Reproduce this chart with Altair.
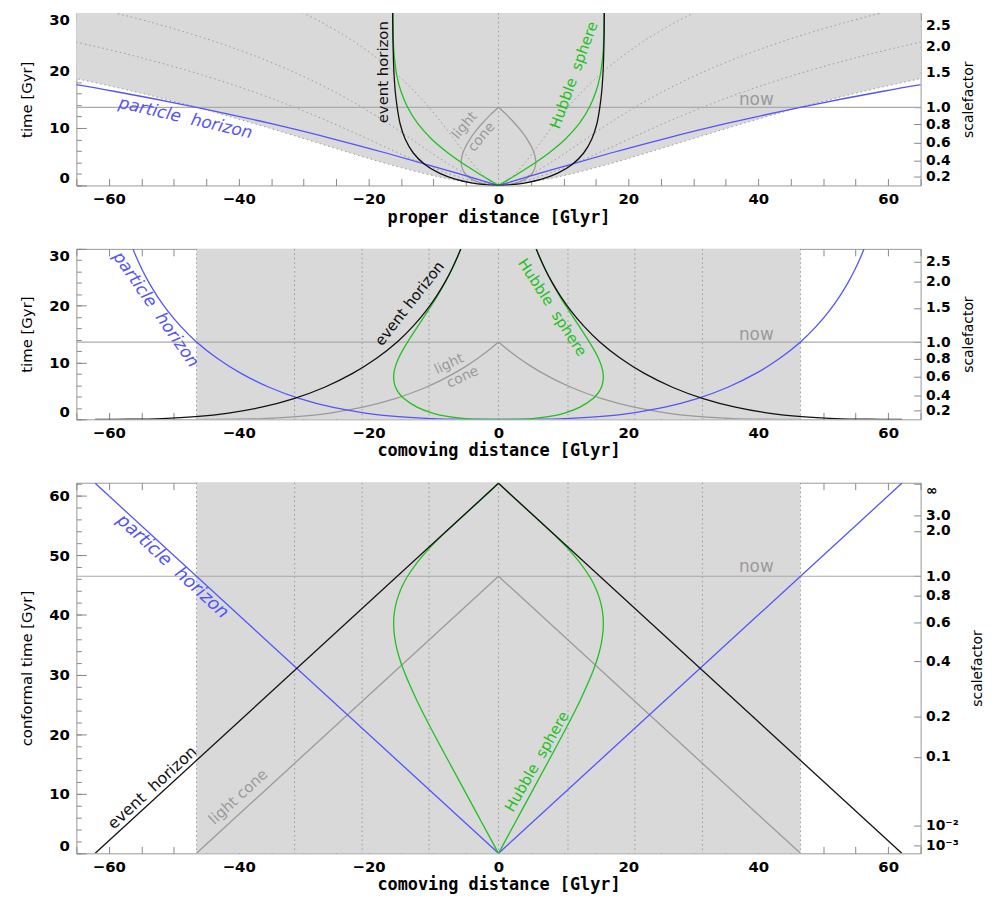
import altair as alt
import pandas as pd

# ------------------------------------------------------------------ values
# cosmic time grid [Gyr]
T_GRID = [0, 0.017, 0.137, 0.463, 1.097, 2.133, 3.644, 5.648, 8.077, 10.784,
          13.6, 16.392, 19.083, 21.641, 24.055, 26.329, 28.472, 30.0]
T_FINE = [0, 0.017, 0.137, 0.463, 1.097, 2.133, 3.644, 4.587, 5.648, 6.817,
          8.077, 9.407, 10.784, 12.188, 13.6, 16.392, 19.083, 21.641, 24.055,
          26.329, 28.472, 30.0]
T_NOW = 13.6
ETA_NOW = 46.5
ETA_END = 62.1

# comoving distances of the dotted worldlines [Glyr]
COMOVING_MARKS = [0, 10.7, 21.0, 31.4, 46.5]

# panel 1: proper distance [Glyr], right half (left half is the mirror image)
P1_PARTICLE = [0, 0.051, 0.411, 1.387, 3.285, 6.405, 11.01, 17.31, 25.37, 35.14, 46.5, 59.24, 73.35]
P1_EVENT = [0, 0.57, 2.073, 4.202, 6.651, 9.12, 11.34, 13.12, 14.37, 15.16, 15.6, 15.9,
            16.07, 16.17, 16.23, 16.27, 16.29, 16.3]
P1_HUBBLE = [0, 0.026, 0.204, 0.689, 1.628, 3.138, 5.243, 7.766, 10.31, 12.45, 14.0, 15.02,
             15.65, 15.97, 16.15, 16.2, 16.23, 16.24]
P1_LIGHTCONE = [0, 0.414, 1.449, 2.798, 4.155, 5.22, 5.728, 5.704, 5.478, 5.04, 4.39,
                3.555, 2.527, 1.336, 0]
P1_WORLD_10 = [0, 0.107, 0.428, 0.963, 1.712, 2.675, 3.852, 5.243, 6.848, 8.667, 10.7,
               12.947, 15.408, 18.083, 20.972, 24.075, 27.392, 30.02]
P1_WORLD_21 = [0, 0.21, 0.84, 1.89, 3.36, 5.25, 7.56, 10.29, 13.44, 17.01, 21.0, 25.41,
               30.24, 35.49, 41.16, 47.25, 53.76, 58.93]
P1_WORLD_31 = [0, 0.314, 1.256, 2.826, 5.024, 7.85, 11.304, 15.386, 20.096, 25.434, 31.4,
               37.994, 45.216, 53.066, 61.544, 70.65]
P1_WORLD_46 = [0, 0.465, 1.86, 4.185, 7.44, 11.625, 16.74, 22.785, 29.76, 37.665, 46.5,
               56.265, 66.96]

# panel 2: comoving distance [Glyr]
P2_PARTICLE = [0, 5.14, 10.28, 15.41, 20.53, 25.62, 30.59, 35.32, 39.64, 43.38, 46.5, 48.96,
               50.94, 52.53, 53.82, 54.87, 55.74, 56.29]
P2_EVENT = [62.1, 56.96, 51.82, 46.69, 41.57, 36.48, 31.51, 26.78, 22.46, 18.72, 15.6, 13.14,
            11.16, 9.57, 8.28, 7.23, 6.365, 5.81]
P2_HUBBLE = [0, 2.556, 5.11, 7.66, 10.18, 12.55, 14.56, 15.32, 15.85, 16.11, 16.11, 15.85,
             15.37, 14.74, 14.0, 12.41, 10.87, 9.45, 8.25, 7.2, 6.34, 5.78]
P2_LIGHTCONE = [46.5, 41.36, 36.23, 31.09, 25.97, 20.88, 15.91, 13.5, 11.18, 8.96, 6.86,
                4.92, 3.12, 1.48, 0]

# panel 3: comoving distance [Glyr] against conformal time [Gyr]
P3_ETA = [0, 5.14, 10.28, 15.41, 20.53, 25.62, 30.59, 33.0, 35.32, 37.54, 39.64, 41.58, 43.38,
          45.02, 46.5, 48.96, 50.94, 52.53, 53.82, 54.87, 55.74, 57.06, 58.02, 59.49, 60.28, 62.1]
P3_HUBBLE = [0, 2.556, 5.11, 7.66, 10.18, 12.55, 14.56, 15.32, 15.85, 16.11, 16.11, 15.85,
             15.37, 14.74, 14.0, 12.41, 10.87, 9.45, 8.25, 7.2, 6.34, 5.0, 4.05, 2.58, 1.8, 0]
P3_PARTICLE = [0, 62.1]
P3_PARTICLE_ETA = [0, 62.1]
P3_EVENT = [62.1, 0]
P3_EVENT_ETA = [0, 62.1]
P3_LIGHTCONE = [46.5, 0]
P3_LIGHTCONE_ETA = [0, 46.5]

# scalefactor axis (right)
SF_T_LABELS = ["0.2", "0.4", "0.6", "0.8", "1.0", "1.5", "2.0", "2.5"]
SF_T_AT = [1.53, 4.25, 7.45, 10.65, 13.6, 19.6, 24.2, 27.8]
SF_ETA_LABELS = ["10⁻³", "10⁻²", "0.1", "0.2", "0.4", "0.6", "0.8", "1.0", "2.0", "3.0", "∞"]
SF_ETA_AT = [1.25, 4.7, 16.2, 23.0, 32.2, 38.7, 43.2, 46.5, 54.1, 56.7, 62.1]

X_LABELS = [-60, -40, -20, 0, 20, 40, 60]

# ------------------------------------------------------------------ styling
BLUE = "#5353ff"
GREEN = "#22bf22"
BLACK = "#111111"
GREY = "#9a9a9a"
NOWC = "#aaaaaa"
BG = "#d9d9d9"
W = 852
XS = alt.Scale(domain=[-65, 65], nice=False, zero=False)


def mirror(xs, ys, name):
    rows = []
    for side, s in (("L", -1), ("R", 1)):
        for i, (x, y) in enumerate(zip(xs, ys)):
            rows.append({"x": s * x, "y": y, "g": name + side, "i": i})
    return pd.DataFrame(rows)


def line_layer(df, ys, color, width=1.3, dash=None, interp="catmull-rom"):
    props = dict(color=color, strokeWidth=width, clip=True, interpolate=interp)
    if dash is not None:
        props["strokeDash"] = dash
    return alt.Chart(df).mark_line(**props).encode(
        x=alt.X("x:Q", scale=XS, axis=None),
        y=alt.Y("y:Q", scale=ys, axis=None),
        detail="g:N",
        order="i:Q",
    )


def text_layer(txt, x, y, angle, color, size, ys, italic=False):
    df = pd.DataFrame({"x": [x], "y": [y], "t": [txt]})
    props = dict(color=color, fontSize=size, angle=angle, font="DejaVu Sans",
                 align="center", baseline="middle")
    if italic:
        props["fontStyle"] = "italic"
    return alt.Chart(df).mark_text(**props).encode(
        x=alt.X("x:Q", scale=XS, axis=None),
        y=alt.Y("y:Q", scale=ys, axis=None),
        text="t:N",
    )


def vrules(xs, ys):
    df = pd.DataFrame({"x": [-v for v in xs if v > 0] + xs})
    return alt.Chart(df).mark_rule(color=GREY, strokeDash=[1.5, 3], strokeWidth=1).encode(
        x=alt.X("x:Q", scale=XS, axis=None))


def now_rule(val, ys):
    return alt.Chart(pd.DataFrame({"y": [val]})).mark_rule(color=NOWC, strokeWidth=1.2).encode(
        y=alt.Y("y:Q", scale=ys, axis=None))


def tick_axis(orient, values, size):
    return alt.Axis(orient=orient, values=values, labels=False, domain=False,
                    tickSize=size, offset=-size, tickColor="#888", title=None,
                    minExtent=0, maxExtent=0)


def axis_layers(ys, ymax, xtitle, ytitle, y_major, sf_at, sf_labels):
    dummy = pd.DataFrame({"x": [0.0], "y": [0.0]})
    base = alt.Chart(dummy).mark_point(opacity=0)
    expr = ("[" + ",".join("'%s'" % l for l in sf_labels) + "][indexof(["
            + ",".join(str(v) for v in sf_at) + "], datum.value)]")
    ymin_ticks = list(range(0, int(ymax) + 1, 2))
    xmin_ticks = list(range(-65, 66, 5))
    layers = [
        base.encode(
            x=alt.X("x:Q", scale=XS, axis=alt.Axis(
                orient="bottom", values=X_LABELS, ticks=False, domain=False,
                labelPadding=6, labelFontSize=15, labelFontWeight="bold", labelFlush=False,
                title=xtitle, titleFont="DejaVu Sans Mono", titleFontSize=17,
                titleFontWeight="bold", titlePadding=3)),
            y=alt.Y("y:Q", scale=ys, axis=alt.Axis(
                orient="left", values=y_major, ticks=False, domain=False,
                labelPadding=7, labelFontSize=15, labelFontWeight="bold",
                labelFlush=True, labelFlushOffset=0,
                title=ytitle, titleFontSize=15, titleFontWeight="normal", titlePadding=14)),
        ),
        base.encode(
            x=alt.X("x:Q", scale=XS, axis=tick_axis("bottom", xmin_ticks, 7)),
            y=alt.Y("y:Q", scale=ys, axis=tick_axis("right", sf_at, 7)),
        ),
        base.encode(
            x=alt.X("x:Q", scale=XS, axis=tick_axis("top", xmin_ticks, 7)),
            y=alt.Y("y:Q", scale=ys, axis=tick_axis("left", ymin_ticks, 5)),
        ),
        base.encode(
            x=alt.X("x:Q", scale=XS, axis=None),
            y=alt.Y("y:Q", scale=ys, axis=tick_axis("left", y_major, 10)),
        ),
        base.encode(
            x=alt.X("x:Q", scale=XS, axis=None),
            y=alt.Y("y:Q", scale=ys, axis=alt.Axis(
                orient="right", values=sf_at, labelExpr=expr, ticks=False, domain=False,
                labelPadding=5, labelFontSize=14, labelFontWeight="bold",
                labelFlush=3, labelOverlap=False,
                title="scalefactor", titleAngle=270, titleBaseline="top", titleFontSize=14,
                titleFontWeight="normal", titlePadding=12)),
        ),
    ]
    return layers


# ------------------------------------------------------------------ panel 1
Y1 = alt.Scale(domain=[0, 30], nice=False, zero=False)
bx = [-v for v in P1_WORLD_46[::-1]] + P1_WORLD_46[1:]
bt = T_GRID[:len(P1_WORLD_46)][::-1] + T_GRID[1:len(P1_WORLD_46)]
bg1 = alt.Chart(pd.DataFrame({"x": bx, "y": bt, "y2": [30] * len(bx)})).mark_area(
    color=BG, clip=True, interpolate="monotone").encode(
    x=alt.X("x:Q", scale=XS, axis=None), y=alt.Y("y:Q", scale=Y1, axis=None), y2="y2:Q")

worlds = pd.concat([
    mirror(P1_WORLD_10, T_GRID, "w10"),
    mirror(P1_WORLD_21, T_GRID, "w21"),
    mirror(P1_WORLD_31, T_GRID, "w31"),
    mirror(P1_WORLD_46, T_GRID, "w46"),
])

p1_layers = [
    bg1,
    line_layer(worlds, Y1, GREY, width=1, dash=[1.5, 3]),
    vrules([0], Y1),
    now_rule(T_NOW, Y1),
    line_layer(mirror(P1_LIGHTCONE, T_FINE, "lc"), Y1, GREY),
    line_layer(mirror(P1_PARTICLE, T_GRID, "ph"), Y1, BLUE),
    line_layer(mirror(P1_HUBBLE, T_GRID, "hs"), Y1, GREEN),
    line_layer(mirror(P1_EVENT, T_GRID, "eh"), Y1, BLACK),
    text_layer("particle\u00a0\u00a0horizon", -48.2, 11.7, 13, BLUE, 17, Y1, italic=True),
    text_layer("event\u00a0horizon", -17.7, 19.7, 270, BLACK, 15, Y1),
    text_layer("light", -5.2, 10.4, 310, GREY, 14, Y1),
    text_layer("cone", -2.6, 8.4, 310, GREY, 14, Y1),
    text_layer("Hubble\u00a0\u00a0sphere", 11.6, 19.2, 290, GREEN, 15, Y1),
    text_layer("now", 39.7, 14.8, 0, GREY, 17, Y1),
] + axis_layers(Y1, 30, "proper distance [Glyr]", "time [Gyr]", [0, 10, 20, 30],
                SF_T_AT, SF_T_LABELS)

p1 = alt.layer(*p1_layers).resolve_axis(x="independent", y="independent").properties(
    width=W, height=174)

# ------------------------------------------------------------------ panel 2
Y2 = alt.Scale(domain=[0, 30], nice=False, zero=False)
rect2 = alt.Chart(pd.DataFrame({"x": [-COMOVING_MARKS[-1]], "x2": [COMOVING_MARKS[-1]],
                                "y": [0], "y2": [30]})).mark_rect(color=BG).encode(
    x=alt.X("x:Q", scale=XS, axis=None), x2="x2:Q",
    y=alt.Y("y:Q", scale=Y2, axis=None), y2="y2:Q")

p2_layers = [
    rect2,
    vrules(COMOVING_MARKS, Y2),
    now_rule(T_NOW, Y2),
    line_layer(mirror(P2_LIGHTCONE, T_FINE, "lc"), Y2, GREY),
    line_layer(mirror(P2_PARTICLE, T_GRID, "ph"), Y2, BLUE),
    line_layer(mirror(P2_HUBBLE, T_FINE, "hs"), Y2, GREEN),
    line_layer(mirror(P2_EVENT, T_GRID, "eh"), Y2, BLACK),
    text_layer("particle\u00a0\u00a0horizon", -52.8, 19.3, 55, BLUE, 17, Y2, italic=True),
    text_layer("event\u00a0horizon", -13.7, 20.4, 308, BLACK, 15, Y2),
    text_layer("light", -7.6, 9.7, 335, GREY, 14, Y2),
    text_layer("cone", -5.5, 7.4, 335, GREY, 14, Y2),
    text_layer("Hubble\u00a0\u00a0sphere", 8.3, 19.7, 57, GREEN, 15, Y2),
    text_layer("now", 39.7, 14.9, 0, GREY, 17, Y2),
] + axis_layers(Y2, 30, "comoving distance [Glyr]", "time [Gyr]", [0, 10, 20, 30],
                SF_T_AT, SF_T_LABELS)

p2 = alt.layer(*p2_layers).resolve_axis(x="independent", y="independent").properties(
    width=W, height=172)

# ------------------------------------------------------------------ panel 3
Y3 = alt.Scale(domain=[0, 62.2], nice=False, zero=False)
rect3 = alt.Chart(pd.DataFrame({"x": [-COMOVING_MARKS[-1]], "x2": [COMOVING_MARKS[-1]],
                                "y": [0], "y2": [62.2]})).mark_rect(color=BG).encode(
    x=alt.X("x:Q", scale=XS, axis=None), x2="x2:Q",
    y=alt.Y("y:Q", scale=Y3, axis=None), y2="y2:Q")

p3_layers = [
    rect3,
    vrules(COMOVING_MARKS, Y3),
    now_rule(ETA_NOW, Y3),
    line_layer(mirror(P3_LIGHTCONE, P3_LIGHTCONE_ETA, "lc"), Y3, GREY, interp="linear"),
    line_layer(mirror(P3_PARTICLE, P3_PARTICLE_ETA, "ph"), Y3, BLUE, interp="linear"),
    line_layer(mirror(P3_HUBBLE, P3_ETA, "hs"), Y3, GREEN),
    line_layer(mirror(P3_EVENT, P3_EVENT_ETA, "eh"), Y3, BLACK, interp="linear"),
    text_layer("particle\u00a0\u00a0horizon", -50.2, 48.1, 42.5, BLUE, 18, Y3, italic=True),
    text_layer("event\u00a0\u00a0horizon", -53.3, 11.0, 317.5, BLACK, 16, Y3),
    text_layer("light\u00a0cone", -40.1, 9.5, 317.5, GREY, 15, Y3),
    text_layer("Hubble\u00a0\u00a0sphere", 5.9, 15.4, 300, GREEN, 15, Y3),
    text_layer("now", 39.7, 48.0, 0, GREY, 17, Y3),
] + axis_layers(Y3, 62.2, "comoving distance [Glyr]", "conformal time [Gyr]",
                [0, 10, 20, 30, 40, 50, 60], SF_ETA_AT, SF_ETA_LABELS)

p3 = alt.layer(*p3_layers).resolve_axis(x="independent", y="independent").properties(
    width=W, height=374)

chart = alt.vconcat(p1, p2, p3, spacing=22).properties(
    padding={"left": 11, "top": 0, "right": 2, "bottom": 0},
    background="white",
).configure_view(stroke="#999999", strokeWidth=1).configure_axis(
    labelFont="DejaVu Sans", labelColor="#000000", titleFont="DejaVu Sans",
    titleColor="#000000", grid=False)

chart.save("out.html", embed_options={"renderer": "svg", "actions": False})
